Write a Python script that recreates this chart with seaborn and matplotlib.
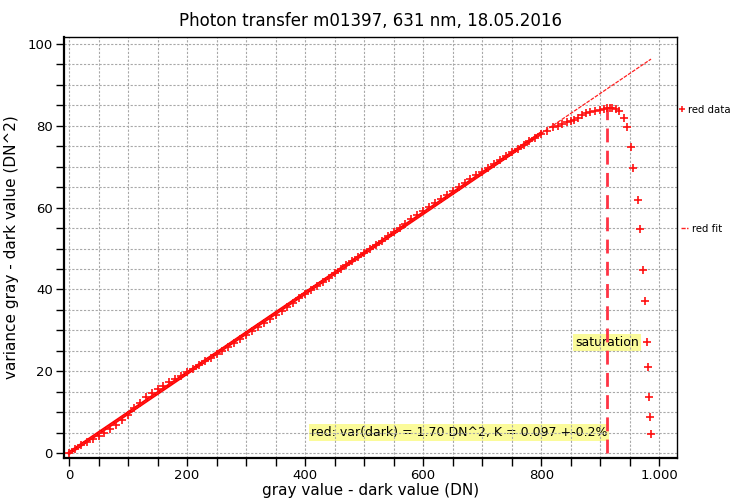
import matplotlib
matplotlib.use("Agg")
import matplotlib.pyplot as plt
import seaborn as sns
import pandas as pd
import numpy as np
from matplotlib.ticker import MultipleLocator, FuncFormatter
from matplotlib.lines import Line2D

# ---- data ----
mean_dn = [0, 10, 20, 30, 40, 50, 60, 70, 80, 90, 100, 110, 120, 130, 140, 150, 160, 170, 180, 190,
           200, 210, 220, 230, 240, 250, 260, 270, 280, 290, 300, 310, 320, 330, 340, 350, 360, 370, 380, 390,
           400, 410, 420, 430, 440, 450, 460, 470, 480, 490, 500, 510, 520, 530, 540, 550, 560, 570, 580, 590,
           600, 610, 620, 630, 640, 650, 660, 670, 680, 690, 700, 710, 720, 730, 740, 750, 760, 770, 780, 790,
           800, 810, 820, 828, 835, 843, 850, 855, 863, 869, 876, 883, 891, 900, 906, 911, 916, 920, 927, 932,
           940, 945, 952, 956, 964, 968, 972, 976, 980, 981, 982.5, 984, 986]
var_dn2 = [0.0, 1.0, 1.9, 2.7, 3.4, 4.1, 5.0, 5.8, 6.9, 8.1, 9.4, 10.9, 12.3, 13.6, 14.7, 15.7, 16.5, 17.3, 18.1, 18.9,
           19.7, 20.6, 21.5, 22.4, 23.2, 24.1, 25.0, 26.0, 26.9, 27.9, 28.9, 29.9, 30.9, 31.9, 32.8, 33.8, 34.8, 35.8, 36.8, 37.8,
           38.8, 39.8, 40.8, 41.8, 42.8, 43.9, 44.9, 45.9, 46.9, 47.9, 48.9, 49.9, 50.9, 51.9, 53.0, 54.0, 55.1, 56.1, 57.1, 58.1,
           59.1, 60.1, 61.1, 62.0, 63.0, 64.0, 65.0, 65.9, 66.9, 67.9, 68.8, 69.7, 70.6, 71.6, 72.5, 73.5, 74.4, 75.3, 76.2, 77.0,
           78.0, 78.8, 79.6, 80.0, 80.4, 81.0, 81.1, 81.3, 81.9, 82.6, 83.2, 83.3, 83.6, 83.9, 84.1, 84.3, 84.4, 84.3, 84.2, 83.7,
           81.8, 79.6, 74.9, 69.8, 61.9, 54.7, 44.7, 37.2, 27.2, 21.0, 13.8, 8.7, 4.6]

fit_x = [0, 986]
fit_y = [0.0, 96.3]
fit_thick_x = [0, 800]
fit_thick_y = [0.0, 78.2]

sat_x = [911, 911]
sat_y = [0, 84.5]

title = "Photon transfer m01397, 631 nm, 18.05.2016"
xlabel = "gray value - dark value (DN)"
ylabel = "variance gray - dark value (DN^2)"
note = "red: var(dark) = 1.70 DN^2, K = 0.097 +-0.2%"

sns.set_style("white")
plt.rcParams['font.family'] = ['DejaVu Sans']
plt.rcParams['text.color'] = 'black'
plt.rcParams['axes.labelcolor'] = 'black'
plt.rcParams['xtick.color'] = 'black'
plt.rcParams['ytick.color'] = 'black'

fig = plt.figure(figsize=(7.33, 5.04), dpi=100)
ax = fig.add_axes([64/733, 1-458/504, (677-64)/733, (458-37)/504])

df = pd.DataFrame({"x": mean_dn, "y": var_dn2})
sns.lineplot(x=fit_thick_x, y=fit_thick_y, ax=ax, color="#ff0000", lw=2.6, zorder=2, estimator=None)
sns.lineplot(x=fit_x, y=fit_y, ax=ax, color="#ff2020", lw=0.9, linestyle=(0, (3, 1)), zorder=2, estimator=None)
ax.plot(df["x"], df["y"], linestyle="none", marker="+", markersize=6, mew=1.2, color="#ff1010", zorder=3)
sns.lineplot(x=sat_x, y=sat_y, ax=ax, color="#ff3344", lw=2.0, linestyle=(0, (5, 3)), zorder=2,
             estimator=None, sort=False)

ax.set_xlim(-8.5, 1030)
ax.set_ylim(-1.2, 101.7)
ax.xaxis.set_major_locator(MultipleLocator(200))
ax.xaxis.set_minor_locator(MultipleLocator(50))
ax.yaxis.set_major_locator(MultipleLocator(20))
ax.yaxis.set_minor_locator(MultipleLocator(5))
ax.xaxis.set_major_formatter(FuncFormatter(lambda v, p: f"{int(v):,}".replace(",", ".")))
ax.set_axisbelow('line')
ax.grid(True, which="both", color="#a8a8a8", lw=0.8, linestyle=(0, (2, 1.5)))
ax.tick_params(which="both", direction="out", length=6, width=1, color="black",
               labelsize=9.5, left=True, bottom=True, pad=2)
for side in ["left", "bottom"]:
    ax.spines[side].set_linewidth(1.6)
    ax.spines[side].set_color("black")
for side in ["top", "right"]:
    ax.spines[side].set_linewidth(1.0)
    ax.spines[side].set_color("black")

ax.set_title(title, fontsize=12, pad=8, color="black")
ax.set_xlabel(xlabel, fontsize=11, labelpad=1)
ax.set_ylabel(ylabel, fontsize=11, labelpad=6)

bb = dict(boxstyle="square,pad=0.15", facecolor="#fbfb9a", edgecolor="none")
ax.text(911, 27.1, "saturation", ha="center", va="center", fontsize=9, bbox=bb, zorder=1)
ax.text(410, 5.1, note, ha="left", va="center", fontsize=9, bbox=bb, zorder=1)

h1 = [Line2D([], [], linestyle="none", marker="+", markersize=5, mew=1.1, color="#ff1010")]
h2 = [Line2D([], [], color="#ff2020", lw=1.0, linestyle=(0, (3, 1)))]
leg1 = fig.legend(h1, ["red data"], loc="center left", bbox_to_anchor=(679/733, 1-110/504),
                  frameon=False, fontsize=7.3, handlelength=0.6, handletextpad=0.3, borderpad=0, borderaxespad=0)
leg2 = fig.legend(h2, ["red fit"], loc="center left", bbox_to_anchor=(681/733, 1-229/504),
                  frameon=False, fontsize=7.3, handlelength=0.7, handletextpad=0.4, borderpad=0, borderaxespad=0)

fig.savefig("out.png", dpi=100)
